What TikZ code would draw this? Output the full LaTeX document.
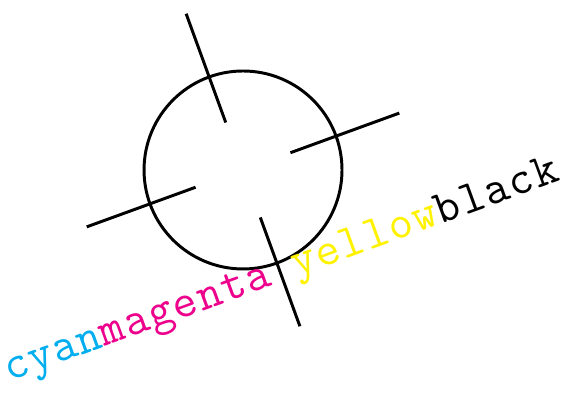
\documentclass[tikz,border=0pt]{standalone}
\usepackage{fontspec}
\usepackage{xcolor}
\usepackage{tikz}
\newfontfamily\inkfont{Latin Modern Mono}[LetterSpace=3.2]
\definecolor{cyanink}{RGB}{0,174,239}
\definecolor{magentaink}{RGB}{236,0,140}
\definecolor{yellowink}{RGB}{255,242,0}

\begin{document}
\begin{tikzpicture}[
    ring/.style={circle, draw=black, line width=0.85pt, minimum size=2cm, inner sep=0pt},
    tick/.style={draw=black, line width=0.85pt},
    inkname/.style={font=\fontsize{13.6}{15}\inkfont, inner sep=0pt, rotate=20}
]
    \useasboundingbox (-2.455,-2.253) rectangle (3.293,1.717);
    % Register mark
    \begin{scope}[rotate=20]
        \node[ring] (ring) at (0,0) {};
        \foreach \a in {0,90,180,270} {
            \coordinate (in\a) at (\a:0.51);
            \coordinate (out\a) at (\a:1.68);
            \draw[tick] (in\a) -- (out\a);
        }
        % Ink names
        \node[inkname, anchor=base east] (leftinks) at (-0.1,-1.2) {\textcolor{cyanink}{cyan}\textcolor{magentaink}{magenta}};
        \node[inkname, anchor=base west] (rightinks) at (0.13,-1.2) {\textcolor{yellowink}{yellow}\textcolor{black}{black}};
    \end{scope}
\end{tikzpicture}
\end{document}
